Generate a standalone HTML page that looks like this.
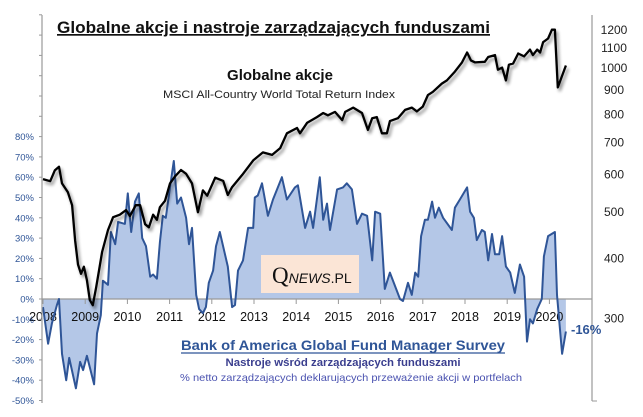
<!DOCTYPE html>
<html><head><meta charset="utf-8"><style>
html,body{margin:0;padding:0;background:#fff;}
svg{display:block;font-family:"Liberation Sans",sans-serif;}
</style></head><body>
<svg id="chart" width="643" height="417" viewBox="0 0 643 417">
<defs>
<filter id="sh" x="-5%" y="-5%" width="110%" height="120%"><feGaussianBlur in="SourceAlpha" stdDeviation="1.5"/><feOffset dx="2" dy="3" result="b"/><feComponentTransfer><feFuncA type="linear" slope="0.45"/></feComponentTransfer><feMerge><feMergeNode/><feMergeNode in="SourceGraphic"/></feMerge></filter>
</defs>
<g id="plot"></g>
<text x="57" y="33" font-size="17" font-weight="bold" fill="#111" textLength="433" lengthAdjust="spacingAndGlyphs" text-decoration="underline">Globalne akcje i nastroje zarządzających funduszami</text>
<text x="280" y="80" font-size="15" font-weight="bold" fill="#111" text-anchor="middle">Globalne  akcje</text>
<text x="279" y="98" font-size="11" fill="#222" text-anchor="middle" textLength="232" lengthAdjust="spacingAndGlyphs">MSCI All-Country World Total Return  Index</text>
<rect x="261" y="255" width="98" height="38" fill="#fbe5d6"/>
<text x="272" y="283" font-family="Liberation Serif,serif" font-size="23" fill="#111">Q<tspan font-family="Liberation Sans,sans-serif" font-size="14" font-style="italic">NEWS</tspan><tspan font-family="Liberation Sans,sans-serif" font-size="14">.PL</tspan></text>
<text x="343" y="350" font-size="14" font-weight="bold" fill="#2f5597" text-anchor="middle" textLength="324" lengthAdjust="spacingAndGlyphs">Bank of America Global Fund Manager Survey</text>
<line x1="181" y1="353" x2="505" y2="353" stroke="#2f5597" stroke-width="1.2"/>
<text x="343" y="366" font-size="11" font-weight="bold" fill="#3b3f8f" text-anchor="middle" textLength="235" lengthAdjust="spacingAndGlyphs">Nastroje wśród zarządzających  funduszami</text>
<text x="351" y="381" font-size="10.5" fill="#4a52b0" text-anchor="middle" textLength="342" lengthAdjust="spacingAndGlyphs">% netto zarządzających deklarujących przeważenie akcji w portfelach</text>
<text x="571" y="334" font-size="13" fill="#2f5597" font-weight="bold">-16%</text>
</svg>
<script>
const years=['2008','2009','2010','2011','2012','2013','2014','2015','2016','2017','2018','2019','2020'];
const leftTicks=[80,70,60,50,40,30,20,10,0,-10,-20,-30,-40,-50];
const rightTicks=[1200,1100,1000,900,800,700,600,500,400,300];
const sentDates=[0,.12,.21,.33,.38,.45,.55,.62,.78,.88,.95,1.04,1.21,1.28,1.37,1.42,1.54,1.61,1.71,1.78,1.94,2.01,2.09,2.18,2.27,2.35,2.44,2.54,2.61,2.70,2.77,2.84,2.91,3.01,3.10,3.18,3.27,3.39,3.46,3.53,3.63,3.70,3.79,3.86,3.93,4.03,4.10,4.19,4.38,4.48,4.55,4.62,4.74,4.86,4.98,5.02,5.09,5.19,5.33,5.45,5.66,5.78,5.97,6.04,6.21,6.33,6.40,6.56,6.64,6.73,6.80,6.97,7.11,7.20,7.32,7.44,7.56,7.68,7.80,7.87,7.99,8.10,8.22,8.46,8.53,8.65,8.74,8.82,8.89,8.96,9.05,9.12,9.22,9.29,9.38,9.48,9.69,9.76,9.88,10.05,10.12,10.21,10.28,10.40,10.47,10.55,10.64,10.71,10.81,10.88,10.97,11.07,11.18,11.30,11.40,11.47,11.54,11.61,11.71,11.82,11.87,11.97,12.13,12.18,12.30,12.39];
const sentValues=[-4,-22,-12,-3,0,-27,-40,-29,-44,-31,-35,-28,-42,-17,-8,9,7,33,27,38,37,52,33,48,52,30,26,11,12,10,28,41,40,55,68,47,50,40,27,35,2,-5,-7,-4,8,14,26,33,16,-4,-3,14,19,35,35,50,51,57,41,49,60,49,55,56,35,43,35,60,39,47,34,54,55,57,54,37,42,41,19,43,42,5,13,0,-1,8,2,13,11,31,39,39,48,40,45,40,34,45,49,55,43,40,29,34,33,19,32,22,22,31,16,13,3,17,11,-21,-10,-12,-5,0,21,31,33,2,-27,-16];
const idxDates=[0,.17,.28,.38,.45,.59,.69,.76,.83,.90,.97,1.04,1.11,1.18,1.26,1.33,1.40,1.54,1.66,1.82,1.97,2.06,2.20,2.30,2.42,2.51,2.61,2.70,2.77,2.89,3.01,3.13,3.27,3.39,3.53,3.67,3.79,3.89,4.08,4.27,4.38,4.48,4.72,4.98,5.21,5.43,5.62,5.78,6.02,6.09,6.26,6.49,6.64,6.75,6.92,7.09,7.16,7.35,7.56,7.70,7.80,7.91,8.03,8.15,8.22,8.41,8.58,8.74,8.86,9.00,9.12,9.24,9.45,9.57,9.76,9.93,10.05,10.14,10.24,10.47,10.55,10.71,10.78,10.88,10.97,11.04,11.14,11.26,11.40,11.54,11.61,11.71,11.78,11.85,11.97,12.06,12.13,12.20,12.39];
const idxValues=[585,579,610,621,573,549,516,436,388,371,384,360,327,319,348,378,412,458,487,493,504,490,516,516,471,464,493,481,511,527,573,593,611,600,573,499,554,540,589,580,542,563,597,640,665,657,679,729,748,729,767,788,804,795,808,777,808,825,804,741,784,788,729,729,773,784,816,825,810,829,876,890,926,940,981,1025,1075,1035,1025,1028,1052,1062,990,1000,940,1014,1020,1070,1055,1090,1062,1090,1075,1130,1150,1200,1200,909,1010];

const NS='http://www.w3.org/2000/svg';
const plot=document.getElementById('plot');
function mk(t,a,p){const e=document.createElementNS(NS,t);for(const k in a)e.setAttribute(k,a[k]);(p||plot).appendChild(e);return e;}
const X=d=>43+d*42.2;
const YL=v=>299-v*2.03;
const YR=v=>318-208*Math.log(v/300);

let pts=sentDates.map((d,i)=>[X(d),YL(sentValues[i])]);
let dArea='M'+pts[0][0]+','+YL(0)+' '+pts.map(p=>'L'+p[0].toFixed(1)+','+p[1].toFixed(1)).join(' ')+' L'+pts[pts.length-1][0]+','+YL(0)+'Z';
let area=mk('path',{d:dArea,fill:'#b4c7e7'});



let zl=mk('line',{x1:42,y1:YL(0),x2:592,y2:YL(0),stroke:'#999','stroke-width':1.2});


years.forEach((y,i)=>{
  const x=X(i);
  mk('line',{x1:x,y1:YL(0),x2:x,y2:YL(0)+5,stroke:'#999'});
  const t=mk('text',{x:x,y:321,'font-size':12.5,fill:'#111','text-anchor':'middle'});
  t.textContent=y;
  
  
});

let sl=mk('path',{d:'M'+pts.map(p=>p[0].toFixed(1)+','+p[1].toFixed(1)).join(' L'),fill:'none',stroke:'#2f5597','stroke-width':2,'stroke-linejoin':'round'});



let ip=idxDates.map((d,i)=>X(d).toFixed(1)+','+YR(idxValues[i]).toFixed(1));
let il=mk('path',{d:'M'+ip.join(' L'),fill:'none',stroke:'#000','stroke-width':2.3,'stroke-linejoin':'round',filter:'url(#sh)'});



let la=mk('line',{x1:42,y1:15,x2:42,y2:403,stroke:'#999','stroke-width':1.2});


for(let v=140;v>=-50;v-=10){mk('line',{x1:39,y1:YL(v),x2:42,y2:YL(v),stroke:'#999'});}
leftTicks.forEach(v=>{
  const t=mk('text',{x:34,y:YL(v)+3.5,'font-size':9.5,fill:'#2f5597','text-anchor':'end'});
  t.textContent=v+'%';
  
  
});
let ra=mk('line',{x1:592,y1:15,x2:592,y2:401,stroke:'#999','stroke-width':1.2});


mk('line',{x1:592,y1:401,x2:597,y2:401,stroke:'#999'});
rightTicks.forEach(v=>{
  const t=mk('text',{x:614,y:YR(v)+4.5,'font-size':12,fill:'#222','text-anchor':'middle'});
  t.textContent=v;
  
  
});
</script>
</body></html>
